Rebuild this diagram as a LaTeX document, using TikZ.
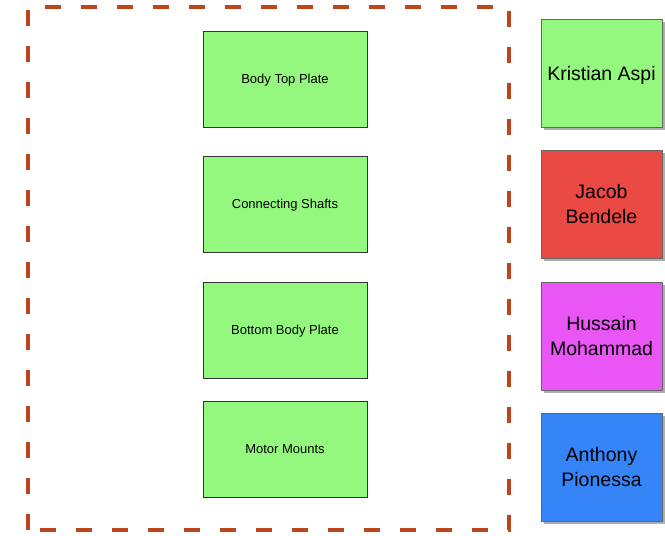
\documentclass[tikz,border=0pt]{standalone}
\usepackage{fontspec}
\setmainfont{Liberation Sans}
\usetikzlibrary{shadows}
\definecolor{rust}{HTML}{BC4520}
\definecolor{partgreen}{HTML}{93F87D}
\definecolor{memred}{HTML}{EA4A43}
\definecolor{memmagenta}{HTML}{EA55F5}
\definecolor{memblue}{HTML}{3585F8}
\begin{document}
\begin{tikzpicture}[x=1pt,y=-1pt,
  part/.style={draw=black!80, line width=0.8pt, fill=partgreen, minimum width=164pt, minimum height=96pt, font=\fontsize{13}{15}\selectfont, inner sep=0pt, text depth=0pt},
  member/.style={draw=black!60, line width=0.8pt, minimum width=121pt, minimum height=108pt, font=\fontsize{19.5}{24.5}\selectfont, align=center, inner sep=0pt, text depth=0pt,
    drop shadow={shadow xshift=2.5pt, shadow yshift=-2.5pt, fill=black!45, opacity=0.7}},
  frame/.style={draw=rust, line width=4.8pt, dash pattern=on 16pt off 20pt}]
\useasboundingbox (0,0) rectangle (665,536);
% dashed enclosure around the body parts
\draw[frame] (28,530) -- (28,7) -- (509,7) -- (509,530) -- cycle;
% body parts
\node[part] (top) at (285,79) {Body Top Plate};
\node[part] (shafts) at (285,204) {Connecting Shafts};
\node[part] (bottom) at (285,330) {Bottom Body Plate};
\node[part] (mounts) at (285,449) {Motor Mounts};
% team members
\node[member, fill=partgreen] (kristian) at (601.5,73) {Kristian Aspi};
\node[member, fill=memred] (jacob) at (601.5,204) {Jacob\\Bendele};
\node[member, fill=memmagenta] (hussain) at (601.5,336) {Hussain\\Mohammad};
\node[member, fill=memblue] (anthony) at (601.5,467) {Anthony\\Pionessa};
\end{tikzpicture}
\end{document}
